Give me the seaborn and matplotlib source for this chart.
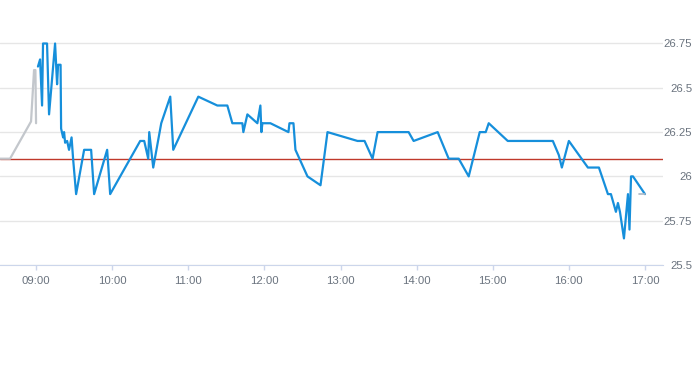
import pandas as pd
import numpy as np
from matplotlib import pyplot as plt
import matplotlib.dates as mdates
import matplotlib.ticker as mticker
import seaborn as sns

day = "2024-01-02 "

# pre-open / after-close (grey) and session (blue) prices
pre_times = ["08:31:35", "08:39:30", "08:56:03", "08:58:25", "08:59:30", "09:00:00"]
pre_price = [26.10, 26.10, 26.31, 26.60, 26.60, 26.30]
post_times = ["16:55:18", "17:00:00"]
post_price = [25.90, 25.90]

times = ["09:01:30", "09:03:10", "09:04:45", "09:05:30", "09:08:40", "09:10:15",
         "09:15:00", "09:16:35", "09:17:22", "09:19:20", "09:19:45", "09:21:20",
         "09:22:05", "09:22:55", "09:24:30", "09:26:00", "09:28:00", "09:29:12",
         "09:31:35", "09:37:54", "09:43:25", "09:45:47", "09:56:03", "09:58:25",
         "10:22:06", "10:25:16", "10:28:25", "10:29:13", "10:32:22", "10:38:41",
         "10:45:47", "10:48:09", "11:07:54", "11:22:54", "11:30:47", "11:34:44",
         "11:42:38", "11:43:25", "11:46:35", "11:54:28", "11:56:50", "11:57:38",
         "11:58:25", "12:04:44", "12:18:57", "12:19:45", "12:22:54", "12:24:28",
         "12:33:57", "12:44:13", "12:49:44", "13:13:25", "13:18:57", "13:25:16",
         "13:29:13", "13:53:41", "13:57:38", "14:16:35", "14:25:16", "14:33:09",
         "14:41:03", "14:49:44", "14:54:28", "14:56:50", "15:11:50", "15:47:22",
         "15:52:06", "15:54:28", "16:00:00", "16:15:00", "16:23:41", "16:30:47",
         "16:33:09", "16:37:06", "16:38:41", "16:40:16", "16:43:25", "16:46:35",
         "16:47:47", "16:49:00", "16:50:32", "17:00:00"]
price = [26.62, 26.66, 26.40, 26.75, 26.75, 26.35,
         26.75, 26.52, 26.63, 26.63, 26.27, 26.22,
         26.25, 26.19, 26.20, 26.15, 26.22, 26.10,
         25.90, 26.15, 26.15, 25.90, 26.15, 25.90,
         26.20, 26.20, 26.10, 26.25, 26.05, 26.30,
         26.45, 26.15, 26.45, 26.40, 26.40, 26.30,
         26.30, 26.25, 26.35, 26.30, 26.40, 26.25,
         26.30, 26.30, 26.25, 26.30, 26.30, 26.15,
         26.00, 25.95, 26.25, 26.20, 26.20, 26.10,
         26.25, 26.25, 26.20, 26.25, 26.10, 26.10,
         26.00, 26.25, 26.25, 26.30, 26.20, 26.20,
         26.12, 26.05, 26.20, 26.05, 26.05, 25.90,
         25.90, 25.80, 25.85, 25.80, 25.65, 25.90,
         25.70, 26.00, 26.00, 25.90]

prev_close = 26.10
y_ticks = [25.5, 25.75, 26.0, 26.25, 26.5, 26.75]
x_start, x_end = "08:31:35", "17:14:12"

pre = pd.DataFrame({"t": pd.to_datetime([day + t for t in pre_times]), "p": pre_price})
post = pd.DataFrame({"t": pd.to_datetime([day + t for t in post_times]), "p": post_price})
df = pd.DataFrame({"t": pd.to_datetime([day + t for t in times]), "p": price})

sns.set_style("white")
plt.rcParams['font.family'] = ['Liberation Sans', 'DejaVu Sans']

fig = plt.figure(figsize=(6.93, 3.65), dpi=100)
ax = fig.add_axes([0, 100 / 365, 663 / 693, 225 / 365])

ax.axhline(prev_close, color='#c0392b', lw=1, zorder=2)
sns.lineplot(data=pre, x='t', y='p', ax=ax, color='#c3c7cc', lw=1.6, zorder=3)
sns.lineplot(data=df, x='t', y='p', ax=ax, color='#168fdb', lw=1.6, zorder=4)
sns.lineplot(data=post, x='t', y='p', ax=ax, color='#aab8c6', lw=1.2, zorder=5)

ax.set_xlim(pd.Timestamp(day + x_start), pd.Timestamp(day + x_end))
ax.set_ylim(25.5, 25.5 + 225 / 177.2)

ax.set_yticks(y_ticks)
ax.yaxis.set_major_formatter(mticker.FuncFormatter(lambda v, p: f"{v:g}"))
ax.yaxis.tick_right()
ax.tick_params(axis='y', length=0, pad=21, labelsize=8.2, labelcolor='#6a737e')
for lab in ax.get_yticklabels():
    lab.set_horizontalalignment('right')
ax.grid(axis='y', color='#e6e6e6', lw=1)
ax.grid(axis='x', visible=False)

ax.xaxis.set_major_locator(mdates.HourLocator())
ax.xaxis.set_major_formatter(mdates.DateFormatter('%H:%M'))
ax.tick_params(axis='x', length=3.6, width=1, color='#ccd6eb', pad=4,
               labelsize=8.2, labelcolor='#6a737e', bottom=True)

for s in ['top', 'left', 'right']:
    ax.spines[s].set_visible(False)
ax.spines['bottom'].set_color('#ccd6eb')
ax.set_xlabel('')
ax.set_ylabel('')
ax.set_facecolor('white')

plt.savefig('out.png', dpi=100)
